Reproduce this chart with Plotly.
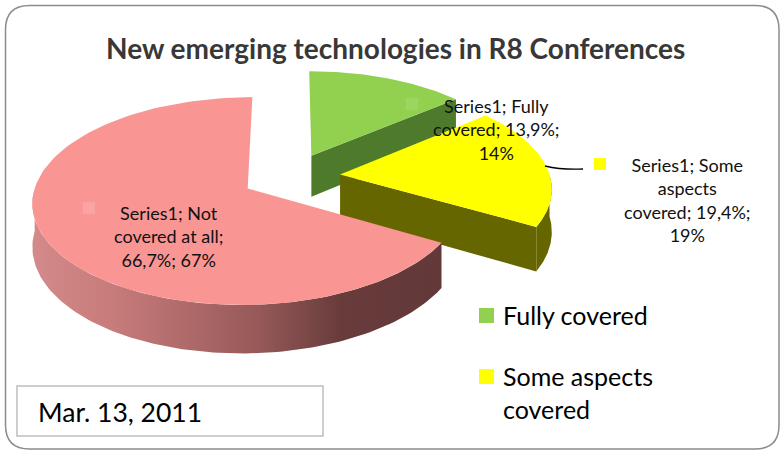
import textwrap
import numpy as np
import plotly.graph_objects as go

# ---------------- data ----------------
series_name = "Series1"
categories = ["Fully covered", "Some aspects covered", "Not covered at all"]
values = [13.9, 19.4, 66.7]          # percent
legend_categories = ["Fully covered", "Some aspects covered"]
title_text = "New emerging technologies in R8 Conferences"
date_text = "Mar. 13, 2011"

# ---------------- style ----------------
top_colors = ["#92D050", "#FFFF00", "#F99694"]
side_colors = ["#4E7A2B", "#666600", "#7A4444"]
key_colors = ["#9BD65E", "#FFFF00", "#FBA3A3"]
wall_gradient = [[0, "#D48A8A"], [0.2, "#C77B7B"], [0.55, "#975959"],
                 [0.75, "#693C3C"], [1, "#633838"]]
FONT = "Lato"

W, H = 782, 452
# pseudo-3D projection parameters (pixels)
CX, CY = 291, 176.5
A, B = 210, 99.5
K = 0.12
DEPTH = 42
EXPLODE = 0.235


def proj(u, v, h=0.0):
    s = 1.0 / (1.0 + K * v)
    return CX + A * u * s, CY - B * v * s + DEPTH * h * s


def rim(ou, ov, a0, a1, h=0.0, n=120):
    th = np.radians(np.linspace(a0, a1, n))
    return proj(ou + np.sin(th), ov + np.cos(th), h)


total = float(sum(values))
angles = np.concatenate([[0], np.cumsum(values) / total * 360.0])

fig = go.Figure()

for i, cat in enumerate(categories):
    a0, a1 = angles[i], angles[i + 1]
    mid = np.radians((a0 + a1) / 2)
    ou, ov = EXPLODE * np.sin(mid), EXPLODE * np.cos(mid)
    ax_t, ay_t = proj(ou, ov, 0)
    ax_b, ay_b = proj(ou, ov, 1)

    # radial face at end edge (visible if it faces the viewer)
    if np.cos(np.radians(a1 + 90)) < -0.05:
        ex_t, ey_t = rim(ou, ov, a1, a1, 0, 1)
        ex_b, ey_b = rim(ou, ov, a1, a1, 1, 1)
        fig.add_trace(go.Scatter(
            x=[ax_t, ex_t[0], ex_b[0], ax_b, ax_t],
            y=[ay_t, ey_t[0], ey_b[0], ay_b, ay_t],
            mode="lines", fill="toself", fillcolor=side_colors[i],
            line=dict(width=0), hoverinfo="skip", showlegend=False))

    # outer curved wall (front half)
    w0, w1 = max(a0, 90.0), min(a1, 270.0)
    if w1 > w0:
        tx, ty = rim(ou, ov, w0, w1, 0)
        bx, by = rim(ou, ov, w0, w1, 1)
        wx = np.concatenate([tx, bx[::-1], tx[:1]])
        wy = np.concatenate([ty, by[::-1], ty[:1]])
        kw = dict(fillcolor=side_colors[i])
        if i == 2:
            kw = dict(fillgradient=dict(type="horizontal", colorscale=wall_gradient))
        fig.add_trace(go.Scatter(
            x=wx, y=wy, mode="lines", fill="toself",
            line=dict(width=0), hoverinfo="skip", showlegend=False, **kw))

    # top face
    tx, ty = rim(ou, ov, a0, a1, 0)
    fig.add_trace(go.Scatter(
        x=np.concatenate([[ax_t], tx, [ax_t]]),
        y=np.concatenate([[ay_t], ty, [ay_t]]),
        mode="lines", fill="toself", fillcolor=top_colors[i],
        line=dict(width=0), name=cat, hoverinfo="name", showlegend=False))


def fmt(p):
    return f"{p:.1f}".replace(".", ",") + "%"


label_texts = ["<br>".join(textwrap.wrap(
    f"{series_name}; {c}; {fmt(p)}; {round(p)}%", width=15))
    for c, p in zip(categories, values)]

label_pos = [(496, 129), (687, 200), (168, 236)]
key_pos = [(412, 104), (600, 164), (89, 208)]

for i, txt in enumerate(label_texts):
    fig.add_annotation(x=label_pos[i][0], y=label_pos[i][1], text=txt,
                       showarrow=False, xanchor="center", yanchor="middle",
                       font=dict(family=FONT, size=18, color="#111111"))
    kx, ky = key_pos[i]
    fig.add_shape(type="rect", x0=kx - 6, x1=kx + 6, y0=ky - 6, y1=ky + 6,
                  fillcolor=key_colors[i], line=dict(width=0), layer="above")

# leader line for the yellow label
fig.add_shape(type="path", path="M 545,166 Q 562,170 583,169",
              line=dict(color="#000000", width=1.3))

# title
fig.add_annotation(x=395, y=48, text=f"<b>{title_text}</b>", showarrow=False,
                   xanchor="center", yanchor="middle",
                   font=dict(family=FONT, size=28, color="#383838"))

# legend (manual)
leg_y = [316, 377]
for j, name in enumerate(legend_categories):
    idx = categories.index(name)
    fig.add_shape(type="rect", x0=479, x1=494, y0=leg_y[j] - 8, y1=leg_y[j] + 7,
                  fillcolor=top_colors[idx], line=dict(width=0))
    fig.add_annotation(x=501, y=leg_y[j] - 18, text="<br>".join(textwrap.wrap(name, 13)),
                       showarrow=False, xanchor="left", yanchor="top", align="left",
                       font=dict(family=FONT, size=25, color="#000000"))

# date box
fig.add_shape(type="rect", x0=17, x1=323, y0=386, y1=436,
              line=dict(color="#BFBFBF", width=1.5), fillcolor="rgba(0,0,0,0)")
fig.add_annotation(x=36, y=412, text=date_text, showarrow=False,
                   xanchor="left", yanchor="middle",
                   font=dict(family=FONT, size=26.5, color="#000000"))

# outer rounded border
r = 24
x0, y0, x1, y1 = 5.5, 5.5, 779, 449
path = (f"M {x0+r},{y0} L {x1-r},{y0} Q {x1},{y0} {x1},{y0+r} "
        f"L {x1},{y1-r} Q {x1},{y1} {x1-r},{y1} L {x0+r},{y1} "
        f"Q {x0},{y1} {x0},{y1-r} L {x0},{y0+r} Q {x0},{y0} {x0+r},{y0} Z")
fig.add_shape(type="path", path=path, line=dict(color="#8C8C8C", width=1.5))

fig.update_xaxes(range=[0, W], visible=False, fixedrange=True)
fig.update_yaxes(range=[H, 0], visible=False, fixedrange=True)
fig.update_layout(width=W, height=H, margin=dict(l=0, r=0, t=0, b=0),
                  paper_bgcolor="white", plot_bgcolor="white",
                  showlegend=False)

fig.write_html("out.html", config={"displayModeBar": False},
               post_script="document.body.style.margin='0';document.body.style.overflow='hidden';")
